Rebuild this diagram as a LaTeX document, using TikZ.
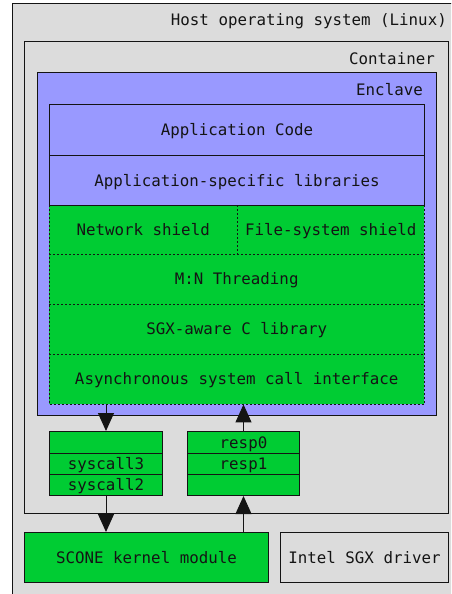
\documentclass[tikz,border=0pt]{standalone}
\usepackage{fontspec}
\setmonofont{DejaVu Sans Mono}
\usetikzlibrary{arrows.meta}
\definecolor{hostgray}{RGB}{220,220,220}
\definecolor{enclblue}{RGB}{153,153,255}
\definecolor{scgreen}{RGB}{0,204,51}
\definecolor{ln}{RGB}{20,20,20}
\begin{document}
\begin{tikzpicture}[x=1pt,y=-1pt,
  every node/.style={font=\ttfamily\fontsize{15.8}{19}\selectfont, text=ln, inner sep=0pt},
  box/.style={draw=ln, line width=1pt, anchor=north west, text height=11.5pt, text depth=0pt, align=center},
  fillbox/.style={anchor=north west, text height=11.5pt, text depth=0pt, align=center, fill=scgreen},
  bluebox/.style={box, fill=enclblue},
  greenbox/.style={box, fill=scgreen},
  graybox/.style={box, fill=hostgray},
  dotline/.style={draw=ln, line width=1pt, dash pattern=on 2pt off 2pt},
  lbl/.style={anchor=base east},
  arr/.style={draw=ln, line width=1pt, -{Triangle[width=16pt,length=18pt]}}
]
\useasboundingbox (0,0) rectangle (451,594);
\clip (0,0) rectangle (451,594);
% host
\node[graybox, minimum width=458pt, minimum height=607pt] (host) at (12,3) {};
\node[lbl] (hostlbl) at (447,26) {Host operating system (Linux)};
% container
\node[graybox, minimum width=424pt, minimum height=472pt] (cont) at (24,41) {};
\node[lbl] (contlbl) at (435,64) {Container};
% enclave
\node[bluebox, minimum width=399pt, minimum height=343pt] (encl) at (37,72) {};
\node[lbl] (encllbl) at (423,95) {Enclave};
% green layers (fills)
\node[fillbox, minimum width=188pt, minimum height=49pt] (net) at (49,205) {Network shield};
\node[fillbox, minimum width=187pt, minimum height=49pt] (fs) at (237,205) {File-system shield};
\node[fillbox, minimum width=375pt, minimum height=50pt] (mn) at (49,254) {M:N Threading};
\node[fillbox, minimum width=375pt, minimum height=50pt] (sgxc) at (49,304) {SGX-aware C library};
\node[fillbox, minimum width=375pt, minimum height=50pt] (async) at (49,354) {Asynchronous system call interface};
% dotted borders, each drawn once
\draw[dotline] (net.north west) rectangle (async.south east);
\draw[dotline] (net.north east) -- (net.south east);
\draw[dotline] (mn.north west) -- (mn.north east);
\draw[dotline] (sgxc.north west) -- (sgxc.north east);
\draw[dotline] (async.north west) -- (async.north east);
% blue layers
\node[bluebox, minimum width=375pt, minimum height=51pt] (app) at (49,104) {Application Code};
\node[bluebox, minimum width=375pt, minimum height=50pt] (applib) at (49,155) {Application-specific libraries};
% queues
\node[greenbox, minimum width=113pt, minimum height=22pt] (qa1) at (49,431) {};
\node[greenbox, minimum width=113pt, minimum height=21pt] (qa2) at (49,453) {syscall3};
\node[greenbox, minimum width=113pt, minimum height=21pt] (qa3) at (49,474) {syscall2};
\node[greenbox, minimum width=112pt, minimum height=22pt] (qb1) at (187,431) {resp0};
\node[greenbox, minimum width=112pt, minimum height=21pt] (qb2) at (187,453) {resp1};
\node[greenbox, minimum width=112pt, minimum height=21pt] (qb3) at (187,474) {};
% kernel level
\node[greenbox, minimum width=244pt, minimum height=50pt] (scone) at (24,532) {SCONE kernel module};
\node[graybox, minimum width=168pt, minimum height=50pt] (drv) at (280,532) {Intel SGX driver};
% arrows
\draw[arr] (async.south -| qa1.north) -- (qa1.north);
\draw[arr] (qb1.north) -- (async.south -| qb1.north);
\draw[arr] (qa3.south) -- (scone.north -| qa3.south);
\draw[arr] (scone.north -| qb3.south) -- (qb3.south);
\end{tikzpicture}
\end{document}
